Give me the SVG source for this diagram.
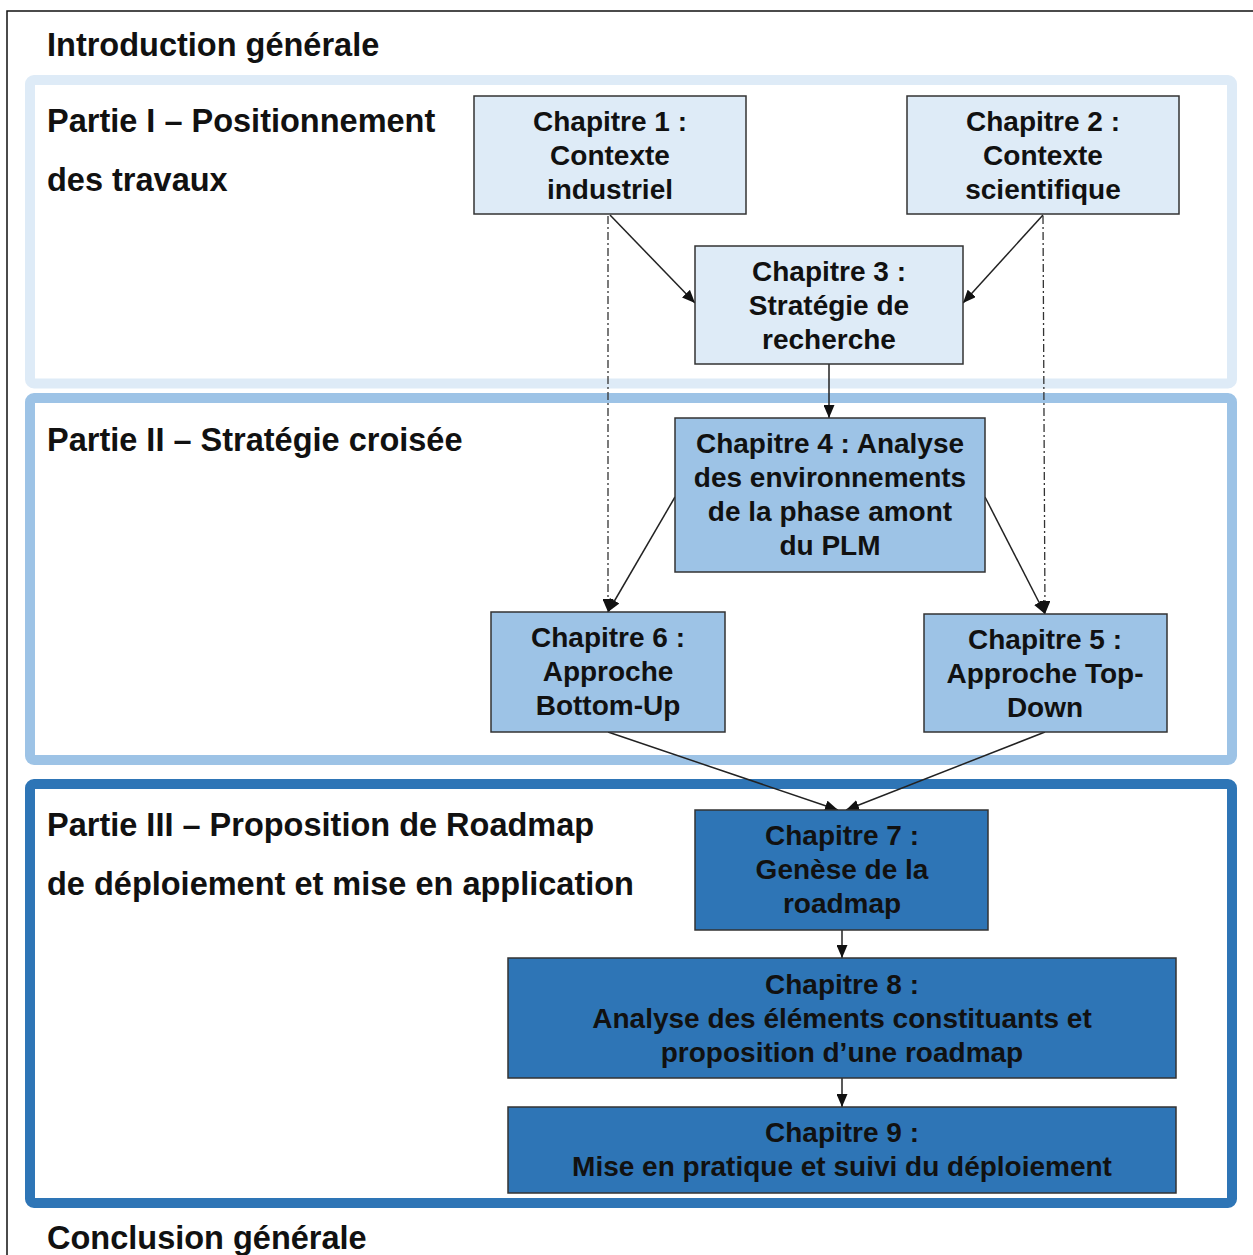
<svg xmlns="http://www.w3.org/2000/svg" width="1253" height="1255" viewBox="0 0 1253 1255">
<defs>
<style>
.title{font-family:"Liberation Sans",Arial,sans-serif;font-weight:bold;font-size:32.5px;fill:#111}
.lbl{font-family:"Liberation Sans",Arial,sans-serif;font-weight:bold;font-size:28px;fill:#111;text-anchor:middle}
.n1{fill:#DEEBF7;stroke:#333;stroke-width:1.5}
.n2{fill:#9DC3E6;stroke:#333;stroke-width:1.5}
.n3{fill:#2E75B6;stroke:#333;stroke-width:1.5}
.c{fill:none;stroke:#222;stroke-width:1.5;marker-end:url(#ah)}
.d{fill:none;stroke:#333;stroke-width:1.3;stroke-dasharray:8,3,2,3;marker-end:url(#ah)}
</style>
<marker id="ah" viewBox="0 0 13 11" refX="13" refY="5.5" markerWidth="13" markerHeight="11" markerUnits="userSpaceOnUse" orient="auto">
<path d="M0,0 L13,5.5 L0,11 z" fill="#111"/>
</marker>
</defs>
<rect x="0" y="0" width="1253" height="1255" fill="#fff"/>
<rect x="7" y="11" width="1270" height="1270" fill="none" stroke="#111" stroke-width="1.5"/>
<g id="partie1">
<rect x="30" y="80" width="1202" height="303.5" rx="4" fill="#fff" stroke="#DEEBF7" stroke-width="10"/>
</g>
<g id="partie2">
<rect x="30" y="398" width="1202" height="362" rx="4" fill="#fff" stroke="#9DC3E6" stroke-width="10"/>
</g>
<g id="partie3">
<rect x="30" y="784" width="1202" height="419" rx="4" fill="#fff" stroke="#2E75B6" stroke-width="10"/>
</g>
<g id="titles">
<text class="title" x="47" y="56">Introduction générale</text>
<text class="title" x="47" y="132">Partie I – Positionnement</text>
<text class="title" x="47" y="191">des travaux</text>
<text class="title" x="47" y="451">Partie II – Stratégie croisée</text>
<text class="title" x="47" y="836">Partie III – Proposition de Roadmap</text>
<text class="title" x="47" y="895">de déploiement et mise en application</text>
<text class="title" x="47" y="1249">Conclusion générale</text>
</g>
<g id="connectors">
<path class="d" d="M608,216 L608,612"/>
<path class="d" d="M1043,216 L1045,614"/>
<path class="c" d="M610,215 L695,303"/>
<path class="c" d="M1043,215 L963,303"/>
<path class="c" d="M829,364 L829,418"/>
<path class="c" d="M675,497 L608,612"/>
<path class="c" d="M985,497 L1045,614"/>
<path class="c" d="M608,732 L838,810"/>
<path class="c" d="M1045,732 L846,810"/>
<path class="c" d="M842,930 L842,958"/>
<path class="c" d="M842,1078 L842,1107"/>
</g>
<g id="ch1">
<rect class="n1" x="474" y="96" width="272" height="118"/>
<text class="lbl" x="610" y="131">Chapitre 1 :</text>
<text class="lbl" x="610" y="165">Contexte</text>
<text class="lbl" x="610" y="199">industriel</text>
</g>
<g id="ch2">
<rect class="n1" x="907" y="96" width="272" height="118"/>
<text class="lbl" x="1043" y="131">Chapitre 2 :</text>
<text class="lbl" x="1043" y="165">Contexte</text>
<text class="lbl" x="1043" y="199">scientifique</text>
</g>
<g id="ch3">
<rect class="n1" x="695" y="246" width="268" height="118"/>
<text class="lbl" x="829" y="281">Chapitre 3 :</text>
<text class="lbl" x="829" y="315">Stratégie de</text>
<text class="lbl" x="829" y="349">recherche</text>
</g>
<g id="ch4">
<rect class="n2" x="675" y="418" width="310" height="154"/>
<text class="lbl" x="830" y="453">Chapitre 4 : Analyse</text>
<text class="lbl" x="830" y="487">des environnements</text>
<text class="lbl" x="830" y="521">de la phase amont</text>
<text class="lbl" x="830" y="555">du PLM</text>
</g>
<g id="ch6">
<rect class="n2" x="491" y="612" width="234" height="120"/>
<text class="lbl" x="608" y="647">Chapitre 6 :</text>
<text class="lbl" x="608" y="681">Approche</text>
<text class="lbl" x="608" y="715">Bottom-Up</text>
</g>
<g id="ch5">
<rect class="n2" x="924" y="614" width="243" height="118"/>
<text class="lbl" x="1045" y="649">Chapitre 5 :</text>
<text class="lbl" x="1045" y="683">Approche Top-</text>
<text class="lbl" x="1045" y="717">Down</text>
</g>
<g id="ch7">
<rect class="n3" x="695" y="810" width="293" height="120"/>
<text class="lbl" x="842" y="845">Chapitre 7 :</text>
<text class="lbl" x="842" y="879">Genèse de la</text>
<text class="lbl" x="842" y="913">roadmap</text>
</g>
<g id="ch8">
<rect class="n3" x="508" y="958" width="668" height="120"/>
<text class="lbl" x="842" y="994">Chapitre 8 :</text>
<text class="lbl" x="842" y="1028">Analyse des éléments constituants et</text>
<text class="lbl" x="842" y="1062">proposition d’une roadmap</text>
</g>
<g id="ch9">
<rect class="n3" x="508" y="1107" width="668" height="86"/>
<text class="lbl" x="842" y="1142">Chapitre 9 :</text>
<text class="lbl" x="842" y="1176">Mise en pratique et suivi du déploiement</text>
</g>
</svg>
